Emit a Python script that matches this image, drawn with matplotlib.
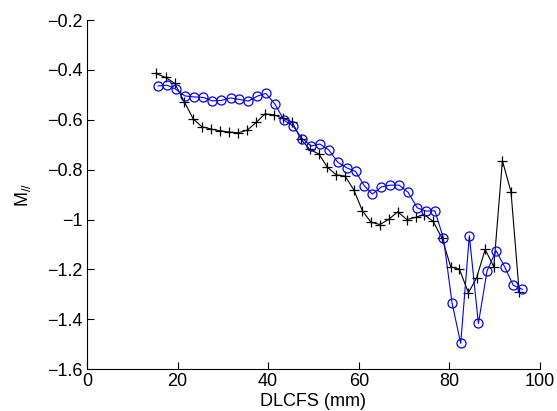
import matplotlib.pyplot as plt
from matplotlib.ticker import FuncFormatter

plt.rcParams['font.family'] = ['Liberation Sans', 'DejaVu Sans']
plt.rcParams['mathtext.default'] = 'regular'

# DLCFS (mm) and M// for the two series
x_plus = [15.2, 17.4, 19.4, 21.5, 23.5, 25.4, 27.4, 29.4, 31.4, 33.4, 35.4, 37.4, 39.3, 41.3,
          43.3, 45.3, 47.2, 49.2, 51.2, 53.1, 55.0, 57.0, 58.9, 60.8, 62.7, 64.7, 66.7, 68.6,
          70.6, 72.6, 74.4, 76.4, 78.4, 80.3, 82.2, 84.2, 86.0, 87.9, 89.8, 91.7, 93.6, 95.4]
m_plus = [-0.414, -0.430, -0.454, -0.528, -0.597, -0.628, -0.637, -0.644, -0.649, -0.652,
          -0.641, -0.610, -0.576, -0.580, -0.594, -0.608, -0.677, -0.719, -0.737, -0.791,
          -0.820, -0.826, -0.881, -0.965, -1.011, -1.020, -0.998, -0.969, -1.000, -0.991,
          -0.980, -1.007, -1.076, -1.190, -1.199, -1.294, -1.234, -1.120, -1.190, -0.764,
          -0.889, -1.290]

x_circ = [15.7, 17.7, 19.6, 21.6, 23.6, 25.7, 27.7, 29.7, 31.7, 33.6, 35.6, 37.6, 39.5, 41.5,
          43.5, 45.5, 47.5, 49.5, 51.4, 53.4, 55.4, 57.4, 59.3, 61.2, 63.0, 65.0, 67.0, 68.9,
          70.9, 72.9, 74.8, 76.8, 78.7, 80.6, 82.5, 84.4, 86.4, 88.3, 90.3, 92.2, 94.1, 96.1]
m_circ = [-0.464, -0.461, -0.477, -0.504, -0.508, -0.510, -0.524, -0.522, -0.512, -0.518,
          -0.525, -0.505, -0.494, -0.537, -0.601, -0.625, -0.675, -0.705, -0.697, -0.721,
          -0.771, -0.793, -0.807, -0.864, -0.898, -0.869, -0.862, -0.862, -0.891, -0.953,
          -0.966, -0.965, -1.076, -1.336, -1.497, -1.065, -1.417, -1.207, -1.125, -1.190,
          -1.264, -1.280]

fig = plt.figure(figsize=(5.57, 4.11), dpi=100)
ax = fig.add_axes([0.156, 0.102, 0.8135, 0.849])

ax.plot(x_plus, m_plus, color='black', lw=0.8, marker='+', ms=7, mew=0.9)
ax.plot(x_circ, m_circ, color='blue', lw=0.8, marker='o', ms=6.5, mfc='none', mew=0.9)

ax.set_xlim(0, 100)
ax.set_ylim(-1.6, -0.2)
ax.set_xticks([0, 20, 40, 60, 80, 100])
ax.set_yticks([-1.6, -1.4, -1.2, -1.0, -0.8, -0.6, -0.4, -0.2])
ax.yaxis.set_major_formatter(FuncFormatter(lambda v, p: ('%g' % round(v, 2)).replace('-', '\u2212')))
ax.tick_params(direction='in', length=5, width=0.8, labelsize=13, pad=3)

ax.spines['top'].set_visible(False)
ax.spines['right'].set_visible(False)
ax.spines['left'].set_linewidth(0.8)
ax.spines['bottom'].set_linewidth(0.8)

ax.set_xlabel('DLCFS (mm)', fontsize=13, labelpad=2)
ax.set_ylabel('M$_{//}$', fontsize=13, labelpad=10)

fig.savefig('out.png', dpi=100)
